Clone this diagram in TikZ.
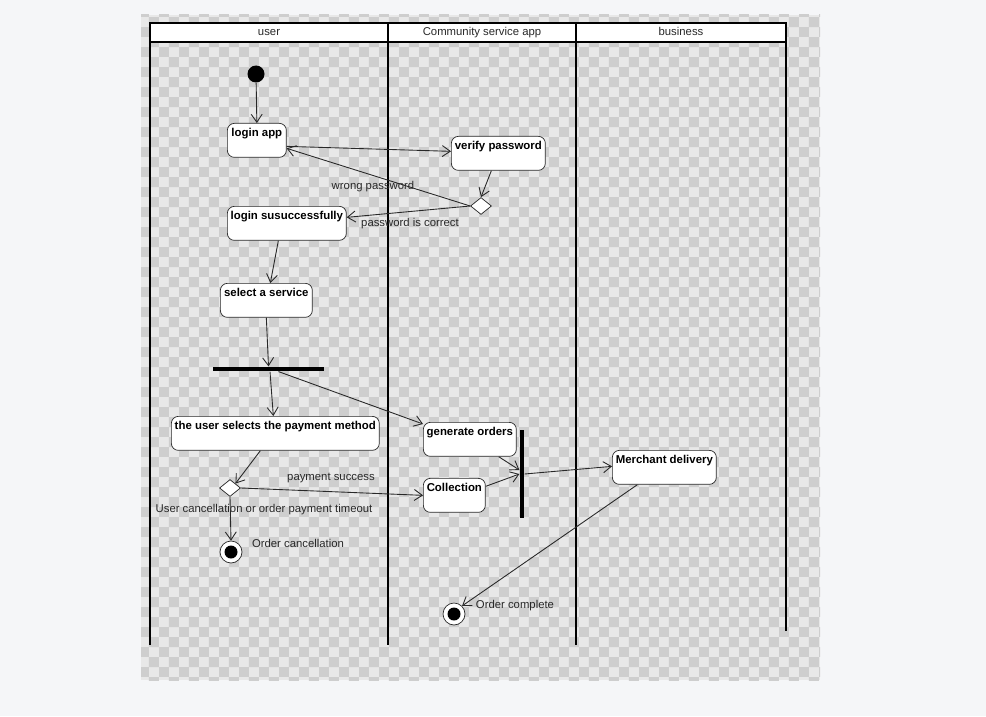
\documentclass[tikz,border=0pt]{standalone}
\usepackage{fontspec}
\setmainfont{Liberation Sans}
\usetikzlibrary{shapes.geometric,arrows.meta,patterns,calc}
\definecolor{PageBg}{RGB}{245,246,248}
\definecolor{ChkLight}{RGB}{232,232,232}
\definecolor{ChkDark}{RGB}{206,206,206}
\definecolor{Ink}{RGB}{40,40,40}
\tikzset{
  anode/.style={rectangle,rounded corners=4pt,draw=Ink,fill=white,
                font=\fontsize{6.5}{7.5}\selectfont\bfseries,anchor=north west,
                minimum height=.68cm,text height=.27cm,text depth=.41cm,
                inner xsep=0pt,inner ysep=0pt},
  adec/.style={diamond,draw=Ink,fill=white,minimum width=.42cm,
               minimum height=.34cm,inner sep=0pt},
  astart/.style={circle,fill=black,minimum size=.34cm,inner sep=0pt},
  aend/.style={circle,draw=Ink,fill=white,minimum size=.44cm,inner sep=0pt},
  abar/.style={rectangle,fill=black,inner sep=0pt},
  aflow/.style={-{Straight Barb[length=1.6mm,width=2.2mm]},Ink,line width=.5pt},
  alabel/.style={font=\fontsize{6.45}{7.5}\selectfont,text=Ink,inner sep=0pt},
  lanehead/.style={alabel,anchor=base},
  lane/.style={line width=1.1pt,black},
}
\begin{document}
\begin{tikzpicture}[x=0.02cm,y=-0.02cm]
  \useasboundingbox[fill=PageBg] (0,0) rectangle (986,716);
  \fill[ChkLight] (141,15) rectangle (820,680);
  \fill[pattern=checkerboard,pattern color=ChkDark] (141,15) rectangle (820,680);
  % swimlanes
  \draw[lane,fill=white] (150,23) rectangle (786,42);
  \draw[lane] (150,23) -- (150,645);
  \draw[lane] (388,23) -- (388,645);
  \draw[lane] (576,23) -- (576,645);
  \draw[lane] (786,23) -- (786,631);
  \node[lanehead] (huser) at (269,36) {user};
  \node[lanehead] (happ) at (482,36) {Community service app};
  \node[lanehead] (hbiz) at (681,36) {business};
  % activities
  \node[astart] (init) at (256,74) {};
  \node[anode,minimum width=1.18cm] (loginapp) at (227,123) {login app};
  \node[anode,minimum width=1.88cm] (verify) at (451,136) {verify password};
  \node[adec] (pwcheck) at (481,206) {};
  \node[anode,minimum width=2.38cm] (loginok) at (227,206) {login susuccessfully};
  \node[anode,minimum width=1.84cm] (service) at (220,283) {select a service};
  \node[abar,minimum width=2.22cm,minimum height=.09cm] (fork) at (268.5,369) {};
  \node[anode,minimum width=4.16cm] (paymethod) at (171,416) {the user selects the payment method};
  \node[anode,minimum width=1.86cm] (genorder) at (423,422) {generate orders};
  \node[anode,minimum width=1.24cm] (collect) at (423,478) {Collection};
  \node[abar,minimum width=.09cm,minimum height=1.76cm] (join) at (522,474) {};
  \node[anode,minimum width=2.08cm] (merchant) at (612,450) {Merchant delivery};
  \node[adec] (paycheck) at (230,488) {};
  \node[aend] (cancelend) at (231,552) {};
  \node[aend] (doneend) at (454,614) {};
  \fill (cancelend) circle (.13cm);
  \fill (doneend) circle (.13cm);
  % flows
  \draw[aflow] (init) -- (loginapp.north);
  \draw[aflow] ([yshift=-.12cm]loginapp.east) -- ([yshift=.04cm]verify.west);
  \draw[aflow] ([xshift=-.14cm]verify.south) -- (pwcheck.north);
  \draw[aflow] (pwcheck.west) -- ([yshift=-.16cm]loginapp.east);
  \draw[aflow] (pwcheck.west) -- ([yshift=.12cm]loginok.east);
  \draw[aflow] ([xshift=-.17cm]loginok.south) -- ([xshift=.08cm]service.north);
  \draw[aflow] (service.south) -- (fork.north);
  \draw[aflow] ([xshift=.03cm]fork.south) -- ([xshift=-.04cm]paymethod.north);
  \draw[aflow] ([xshift=.2cm]fork.south) -- ([yshift=-.04cm]genorder.north west);
  \draw[aflow] ([xshift=-.3cm]paymethod.south) -- (paycheck.north east);
  \draw[aflow] (paycheck.east) -- (collect.west);
  \draw[aflow] (paycheck.south) -- (cancelend.north);
  \draw[aflow] ([xshift=-.36cm]genorder.south east) -- ([yshift=.08cm]join.west);
  \draw[aflow] ([yshift=.18cm]collect.east) -- (join.west);
  \draw[aflow] (join.east) -- ([yshift=.02cm]merchant.west);
  \draw[aflow] ([xshift=-.54cm]merchant.south) -- (doneend.north east);
  % guards
  \node[alabel] (lwrong) at (373,187) {wrong password};
  \node[alabel] (lright) at (410,224) {password is correct};
  \node[alabel] (lpaid) at (331,478) {payment success};
  \node[alabel] (lcancel) at (264,510) {User cancellation or order payment timeout};
  \node[alabel] (lcancelend) at (298,543) {Order cancellation};
  \node[alabel] (ldone) at (515,606) {Order complete};
\end{tikzpicture}
\end{document}
